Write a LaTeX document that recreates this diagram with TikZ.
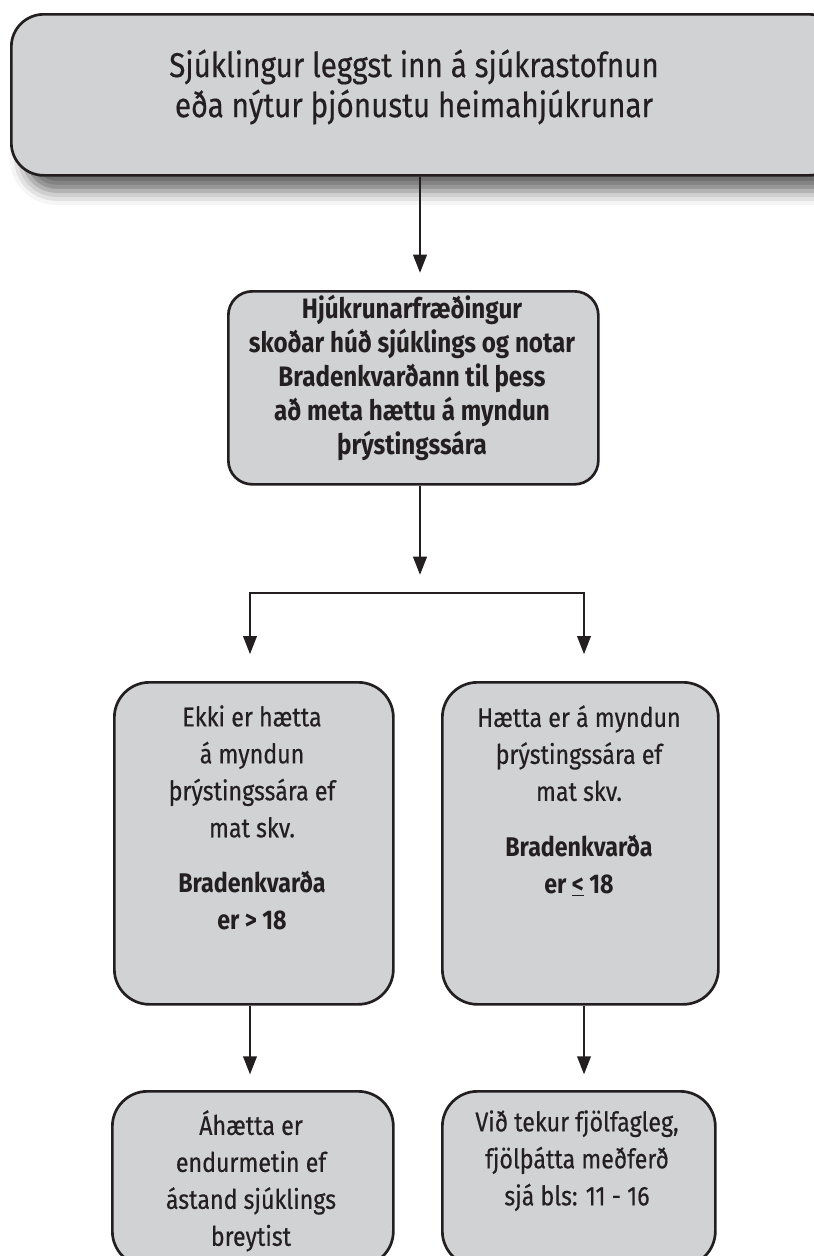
\documentclass[tikz,border=0pt]{standalone}
\usepackage{fontspec}
\setmainfont{Fira Sans}[FakeStretch=0.86,UprightFeatures={FakeBold=0.4}]
\usepackage{xcolor}
\usetikzlibrary{positioning,arrows.meta,shadows.blur}
\definecolor{boxgray}{HTML}{D1D2D4}
\definecolor{ink}{HTML}{231F20}
\newcommand{\pxl}{0.025cm}

\begin{document}
\begin{tikzpicture}[x=\pxl,y=-\pxl,
    box/.style={draw=ink,fill=boxgray,line width=1.9pt,inner sep=0pt,anchor=north west},
    txt/.style={align=center,inner sep=0pt,text=ink},
    arr/.style={draw=ink,line width=2pt,-{Triangle[length=13pt,width=9.5pt]}}]
    \useasboundingbox (0,0) rectangle (814,1256);

    \node[box,rounded corners=23pt,minimum width=830*\pxl,minimum height=161*\pxl,
        blur shadow={shadow xshift=9pt,shadow yshift=-11pt,shadow blur radius=10pt,shadow opacity=60}] (A) at (10,13) {};
    \node[txt,font=\fontsize{24.5}{28.5}\selectfont] (At) at (414,87)
        {Sjúklingur leggst inn á sjúkrastofnun\\eða nýtur þjónustu heimahjúkrunar};

    \node[box,rounded corners=17pt,minimum width=370*\pxl,minimum height=193*\pxl] (B) at (227,290) {};
    \node[txt,font=\fontsize{20}{24.2}\selectfont\bfseries] (Bt) at (412,378)
        {Hjúkrunarfræðingur\\skoðar húð sjúklings og notar\\Bradenkvarðann til þess\\að meta hættu á myndun\\þrýstingssára};

    \node[box,rounded corners=25pt,minimum width=279*\pxl,minimum height=322*\pxl] (L) at (113,681) {};
    \node[box,rounded corners=25pt,minimum width=276*\pxl,minimum height=322*\pxl] (R) at (441,681) {};
    \node[txt,font=\fontsize{19.2}{26.3}\selectfont,anchor=north] (Lt) at (252,705)
        {Ekki er hætta\\á myndun\\þrýstingssára ef\\mat skv.\\[13pt]\textbf{Bradenkvarða}\\\textbf{er > 18}};
    \node[txt,font=\fontsize{19.2}{26.3}\selectfont,anchor=north] (Rt) at (579,705)
        {Hætta er á myndun\\þrýstingssára ef\\mat skv.\\[13pt]\textbf{Bradenkvarða}\\\textbf{er \underline{<} 18}};

    \node[box,rounded corners=25pt,minimum width=281*\pxl,minimum height=175*\pxl] (LL) at (111,1090) {};
    \node[box,rounded corners=25pt,minimum width=273*\pxl,minimum height=175*\pxl] (RR) at (441,1090) {};
    \node[txt,font=\fontsize{19.2}{26.3}\selectfont,anchor=north] (LLt) at (251,1110)
        {Áhætta er\\endurmetin ef\\ástand sjúklings\\breytist};
    \node[txt,font=\fontsize{19.2}{26.3}\selectfont,anchor=north] (RRt) at (577,1110)
        {Við tekur fjölfagleg,\\fjölþátta meðferð\\sjá bls: 11 - 16};

    \coordinate (a1) at (420,273);
    \coordinate (a2) at (420,575);
    \coordinate (bl) at (250,593);
    \coordinate (br) at (584,593);

    \draw[arr] (A.south -| a1) -- (a1);
    \draw[arr] (B.south -| a2) -- (a2);
    \draw[draw=ink,line width=2pt,line cap=rect] (bl) -- (br);
    \draw[arr,shorten >=19pt] (bl) -- (bl |- L.north);
    \draw[arr,shorten >=19pt] (br) -- (br |- R.north);
    \draw[arr,shorten >=11pt] (L.south -| bl) -- (LL.north -| bl);
    \draw[arr,shorten >=11pt] (R.south -| br) -- (RR.north -| br);
\end{tikzpicture}
\end{document}
